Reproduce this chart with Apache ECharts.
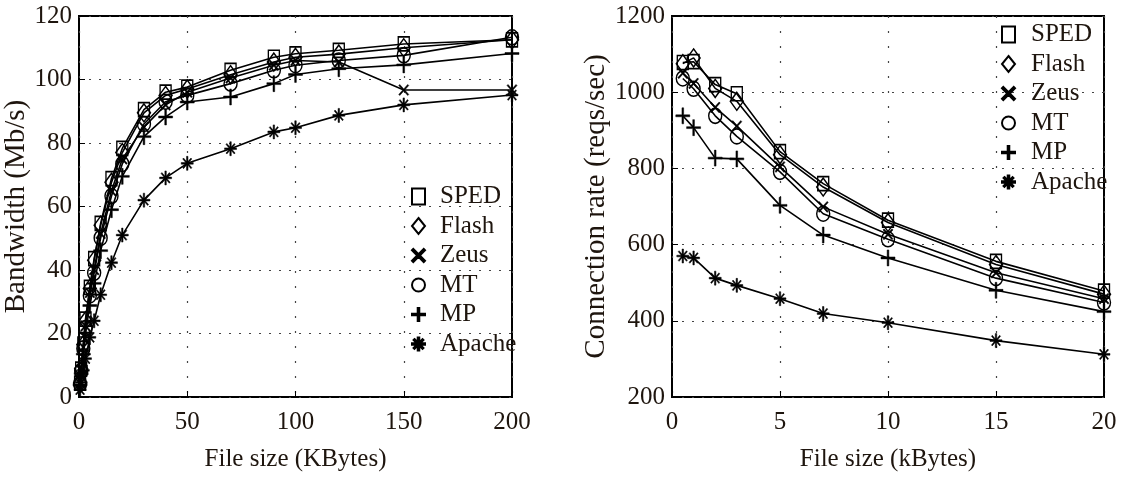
<!DOCTYPE html>
<html lang="en">
<head>
  <meta charset="UTF-8">
  <title>Bandwidth / connection rate</title>
  <script src="https://cdn.jsdelivr.net/npm/echarts@6/dist/echarts.min.js"></script>
  <style type="text/css">
    body{ margin:0; background:#fff; overflow:hidden; }
    #main{ width:1121px; height:479px; }
  </style>
</head>
<body>
<div id="main"></div>
<script type="text/javascript">
var names = ['SPED', 'Flash', 'Zeus', 'MT', 'MP', 'Apache'];

// left panel: bandwidth (Mb/s) vs file size (KBytes)
var bwSizes  = [0.5, 1, 2, 3, 5, 7, 10, 15, 20, 30, 40, 50, 70, 90, 100, 120, 150, 200];
var bwSPED   = [4.4, 8.8, 16.7, 24.5, 34.5, 43.6, 54.7, 68.8, 78.3, 90.5, 96.0, 97.6, 102.9, 107.0, 108.1, 109.2, 111.2, 112.5];
var bwFlash  = [4.4, 8.9, 16.5, 24.0, 34.2, 43.1, 54.1, 67.6, 77.0, 89.5, 95.0, 97.0, 101.5, 105.5, 107.0, 108.0, 110.0, 112.5];
var bwZeus   = [4.3, 8.4, 15.7, 22.4, 32.9, 40.1, 51.5, 64.9, 75.0, 85.0, 92.0, 96.0, 100.5, 104.5, 106.0, 105.5, 96.7, 96.7];
var bwMT     = [4.2, 8.2, 15.3, 21.7, 32.0, 39.1, 50.1, 63.3, 73.4, 86.0, 93.0, 95.0, 98.7, 102.9, 104.5, 106.0, 107.6, 113.3];
var bwMP     = [3.8, 7.4, 13.5, 20.2, 28.8, 35.8, 46.1, 59.0, 69.5, 82.0, 88.2, 92.9, 94.5, 98.7, 101.6, 103.4, 104.6, 108.2];
var bwApache = [2.3, 4.6, 8.4, 12.1, 18.8, 24.0, 32.2, 42.3, 51.0, 62.0, 69.0, 73.6, 78.2, 83.5, 84.8, 88.7, 92.0, 95.1];

// right panel: connection rate (reqs/sec) vs file size (kBytes)
var rateSizes  = [0.5, 1, 2, 3, 5, 7, 10, 15, 20];
var rateSPED   = [1078, 1080, 1020, 996, 844, 760, 664, 556, 478];
var rateFlash  = [1075, 1090, 1010, 976, 836, 751, 658, 548, 470];
var rateZeus   = [1050, 1023, 960, 911, 804, 699, 627, 526, 458];
var rateMT     = [1036, 1009, 938, 884, 791, 681, 614, 512, 448];
var rateMP     = [938, 907, 827, 825, 703, 625, 565, 480, 424];
var rateApache = [570, 565, 512, 493, 458, 419, 395, 348, 312];

var font = '"Liberation Serif", "DejaVu Serif", serif';
var txt = '#1e150e';

// matlab style markers: x, + and *
var symX = 'path://M0,1L1,0L5,4L9,0L10,1L6,5L10,9L9,10L5,6L1,10L0,9L4,5Z';
var symPlus = 'path://M4.4,0H5.6V4.4H10V5.6H5.6V10H4.4V5.6H0V4.4H4.4Z';
var symStar = 'path://M4.4,0H5.6V4.4H10V5.6H5.6V10H4.4V5.6H0V4.4H4.4Z' +
  'M1.9,1.2L5,4.3L8.1,1.2L8.8,1.9L5.7,5L8.8,8.1L8.1,8.8L5,5.7L1.9,8.8L1.2,8.1L4.3,5L1.2,1.9Z';

var marks = {
  SPED:   {symbol: 'rect', size: [11, 14], hollow: true},
  Flash:  {symbol: 'diamond', size: [13, 18], hollow: true},
  Zeus:   {symbol: symX, size: [10, 11], hollow: false},
  MT:     {symbol: 'circle', size: [13, 15], hollow: true},
  MP:     {symbol: symPlus, size: [14, 16], hollow: false},
  Apache: {symbol: symStar, size: [12, 14], hollow: false}
};

function zip(xs, ys) {
  var out = [];
  for (var i = 0; i < xs.length; i++) {
    out.push([xs[i], ys[i]]);
  }
  return out;
}

function makeSeries(name, xs, ys, idx) {
  var m = marks[name];
  return {
    name: name,
    type: 'line',
    xAxisIndex: idx,
    yAxisIndex: idx,
    data: zip(xs, ys),
    symbol: m.symbol,
    symbolSize: m.size,
    showAllSymbol: true,
    lineStyle: {color: '#000', width: 1.6},
    itemStyle: m.hollow
      ? {color: 'rgba(255,255,255,0)', borderColor: '#000', borderWidth: 1.5}
      : {color: '#000', borderColor: '#000', borderWidth: 0.5},
    emphasis: {disabled: true}
  };
}

function plain(v) { return String(v); }

function makeX(idx, max, interval, name) {
  return {
    type: 'value', gridIndex: idx, min: 0, max: max, interval: interval,
    name: name, nameLocation: 'middle', nameGap: 50,
    nameTextStyle: {fontSize: 25, fontFamily: font, color: txt},
    axisLine: {show: false},
    axisTick: {inside: true, length: 6, lineStyle: {color: '#000'}},
    axisLabel: {margin: 13, fontSize: 25, fontFamily: font, color: txt, formatter: plain},
    splitLine: {show: true, lineStyle: {color: '#444', width: 1.2, type: [2, 13]}}
  };
}

function makeY(idx, min, max, interval, name, gap) {
  return {
    type: 'value', gridIndex: idx, min: min, max: max, interval: interval,
    name: name, nameLocation: 'middle', nameGap: gap,
    nameTextStyle: {fontSize: 29, fontFamily: font, color: txt},
    axisLine: {show: false},
    axisTick: {inside: true, length: 6, lineStyle: {color: '#000'}},
    axisLabel: {margin: 7, fontSize: 25, fontFamily: font, color: txt, formatter: plain},
    splitLine: {show: true, lineStyle: {color: '#444', width: 1.2, type: [2, 8]}}
  };
}

function makeLegend(left, top, pad) {
  return {
    orient: 'vertical', left: left, top: top,
    itemWidth: 13, itemHeight: 16, itemGap: 0.5,
    selectedMode: false,
    data: names.map(function (n) { return {name: n, icon: marks[n].symbol}; }),
    textStyle: {fontSize: 25, lineHeight: 29, fontFamily: font, color: txt, padding: [0, 0, 0, pad]}
  };
}

var bwData = [bwSPED, bwFlash, bwZeus, bwMT, bwMP, bwApache];
var rateData = [rateSPED, rateFlash, rateZeus, rateMT, rateMP, rateApache];

var series = [];
for (var i = 0; i < names.length; i++) {
  series.push(makeSeries(names[i], bwSizes, bwData[i], 0));
}
for (var j = 0; j < names.length; j++) {
  series.push(makeSeries(names[j], rateSizes, rateData[j], 1));
}

var myChart = echarts.init(document.getElementById('main'));
var option = {
  animation: false,
  grid: [
    {left: 79, top: 16, width: 433, height: 381, show: true, borderColor: '#000', borderWidth: 2},
    {left: 672, top: 16, width: 432, height: 381, show: true, borderColor: '#000', borderWidth: 2}
  ],
  xAxis: [
    makeX(0, 200, 50, 'File size (KBytes)'),
    makeX(1, 20, 5, 'File size (kBytes)')
  ],
  yAxis: [
    makeY(0, 0, 120, 20, 'Bandwidth (Mb/s)', 42.5),
    makeY(1, 200, 1200, 200, 'Connection rate (reqs/sec)', 55.5)
  ],
  legend: [makeLegend(406, 177, 10), makeLegend(996, 15, 11)],
  series: series
};
myChart.setOption(option);
</script>
</body>
</html>
